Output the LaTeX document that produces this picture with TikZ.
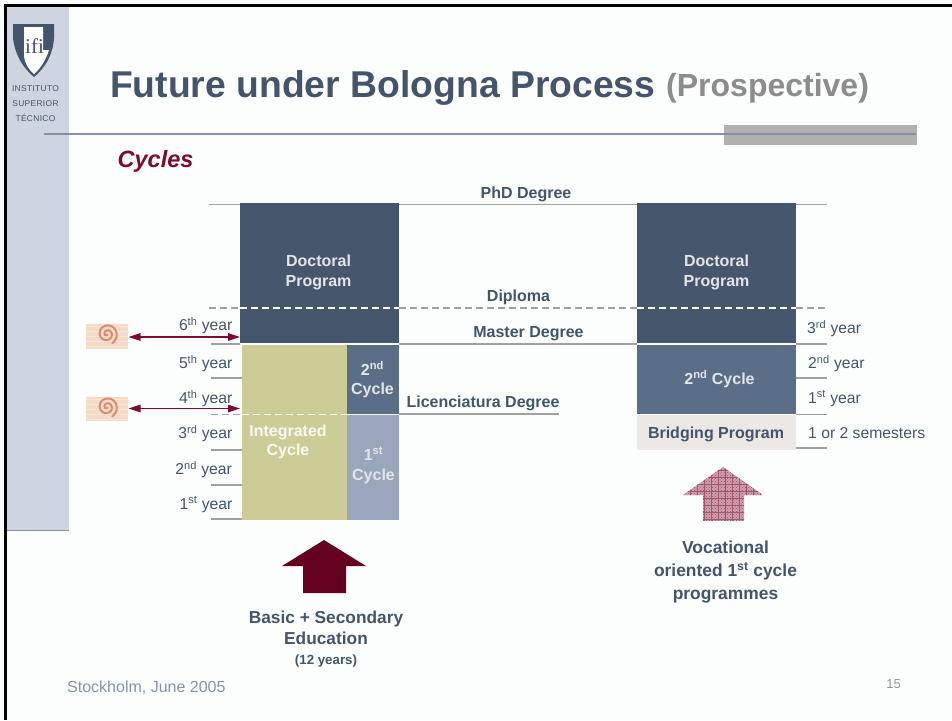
\documentclass[tikz,border=0pt]{standalone}
\usepackage{fontspec}
\setmainfont{Liberation Sans}
\newfontfamily\crestfont{Liberation Serif}
\usetikzlibrary{arrows.meta,patterns}
\definecolor{slate}{HTML}{44546A}
\definecolor{navy}{HTML}{46566C}
\definecolor{midblue}{HTML}{5A6E88}
\definecolor{lightblue}{HTML}{99A6BC}
\definecolor{olive}{HTML}{CCCC96}
\definecolor{wine}{HTML}{7D0B2E}
\definecolor{darkwine}{HTML}{640020}
\definecolor{rulegray}{HTML}{A0A0A0}
\definecolor{sidebar}{HTML}{CED5E0}
\definecolor{bridge}{HTML}{EBE8E6}
\definecolor{titlerule}{HTML}{8490A6}
\definecolor{footgray}{HTML}{8794A8}
\definecolor{spiralbg}{HTML}{F3D9CE}
\definecolor{spiralln}{HTML}{DB8A70}
\definecolor{pagebg}{HTML}{FCFEFE}
\newcommand{\stxt}[1]{\textsuperscript{#1}}
\tikzset{
  x=1pt,y=-1pt,
  hrule/.style={draw=rulegray,line width=1.8pt},
  wdash/.style={draw=white,line width=1.6pt,dash pattern=on 7pt off 4pt},
  gdash/.style={draw=rulegray,line width=1.6pt,dash pattern=on 7pt off 4pt},
  wsep/.style={draw=white,line width=1.6pt},
  block/.style={draw=none,inner sep=0pt,outer sep=0pt,anchor=north west},
  yearlbl/.style={font=\fontsize{15.7}{17}\selectfont,text=slate,inner sep=0pt},
  deg/.style={font=\fontsize{16}{17}\selectfont\bfseries,text=slate,inner sep=0pt},
  inbox/.style={font=\fontsize{16}{19.3}\selectfont\bfseries,align=center,inner sep=0pt},
  link/.style={draw=wine,line width=1.5pt,{Triangle[length=12pt,width=7.5pt]}-{Triangle[length=12pt,width=7.5pt]}},
  bigarrow/.style={fill=darkwine,draw=none},
  spiral/.style={draw=none,fill=spiralbg,minimum width=42pt,inner sep=0pt},
}
\begin{document}
\begin{tikzpicture}
\useasboundingbox (0,0) rectangle (952,720);
\fill[pagebg] (0,0) rectangle (952,720);
% sidebar and frame
\fill[sidebar] (6,5) rectangle (69,530);
\draw[titlerule,line width=1.4pt] (6,530.5) -- (69,530.5);
\draw[black,line width=3pt] (5,720) -- (5,5) -- (952,5);
% crest
\fill[slate] (13,24) -- (54,24) -- (54,38) .. controls (53,55) and (45,68) .. (34,77) .. controls (23,68) and (15,55) .. (13,38) -- cycle;
\fill[white] (24,27) -- (43,27) -- (43,50) -- (49,50) .. controls (46,60) and (40,69) .. (34,74) .. controls (29,70) and (25,64) .. (24,56) -- cycle;
\node[inner sep=0pt,text=slate,font=\fontsize{21}{21}\selectfont\crestfont] (crestmark) at (34.5,46) {ifi};
\node[inner sep=0pt,text=slate,align=center,font=\fontsize{8.4}{15}\selectfont\addfontfeatures{LetterSpace=4}] (ist) at (35.5,103.5) {INSTITUTO\\SUPERIOR\\TÉCNICO};
% title
\node[anchor=west,inner sep=0pt,text=slate,font=\fontsize{37.3}{40}\selectfont\bfseries] (title) at (110,88) {Future under Bologna Process};
\node[anchor=west,inner sep=0pt,text=gray!90,font=\fontsize{32}{40}\selectfont\bfseries] (prosp) at (666,88) {(Prospective)};
\fill[black!31] (724,125) rectangle (917,145);
\coordinate (tl) at (44,134);
\coordinate (tr) at (916,134);
\draw[titlerule,line width=1.4pt] (tl) -- (tr);
\node[anchor=west,inner sep=0pt,text=wine,font=\fontsize{23.5}{25}\selectfont\bfseries\itshape] (cycles) at (117.5,161) {Cycles};
% degree lines
\coordinate (phdl) at (209,204.5); \coordinate (phdr) at (827,204.5);
\draw[hrule] (phdl) -- (phdr);
\node[deg] (phd) at (526,194) {PhD Degree};
% blocks
\node[block,fill=navy,minimum width=159pt,minimum height=141pt] (docl) at (240,203) {};
\node[inbox,text=white!85!slate] (docltxt) at (318.5,272.5) {Doctoral\\Program};
\node[block,fill=navy,minimum width=159pt,minimum height=141pt] (docr) at (637,203) {};
\node[inbox,text=white!85!slate] (docrtxt) at (716.5,272.5) {Doctoral\\Program};
\node[block,fill=olive,minimum width=105.5pt,minimum height=175.5pt] (integ) at (241.5,344.5) {};
\node[inbox,text=white!90!olive] (integtxt) at (288,442) {Integrated\\Cycle};
\node[block,fill=midblue,minimum width=52pt,minimum height=69pt] (c2l) at (347,345) {};
\node[inbox,text=white!85!slate] (c2ltxt) at (372.5,379.5) {2\stxt{nd}\\Cycle};
\node[block,fill=lightblue,minimum width=52pt,minimum height=106pt] (c1l) at (347,414) {};
\node[inbox,text=white!85!slate] (c1ltxt) at (373.5,465.5) {1\stxt{st}\\Cycle};
\node[block,fill=midblue,minimum width=159pt,minimum height=69pt] (c2r) at (637,345) {};
\node[inbox,text=white!85!slate] (c2rtxt) at (719.5,379) {2\stxt{nd} Cycle};
\node[block,fill=bridge,minimum width=159pt,minimum height=35pt] (bridge) at (637,415) {};
\node[inbox,text=slate] (bridgetxt) at (716,434) {Bridging Program};
% horizontal ticks
\foreach \yy in {378,450,485,519}{\draw[hrule] (211,\yy) -- (241.5,\yy);}
\draw[hrule] (211,344) -- (241,344);
\draw[hrule] (399,344) -- (637,344);
\draw[hrule] (796,344) -- (827,344);
\draw[hrule] (399,414) -- (559,414);
\draw[hrule] (796,378) -- (827,378);
\draw[hrule] (796,414.5) -- (827,414.5);
\draw[hrule] (796,448) -- (827,448);
\draw[wsep] (240,344) -- (399,344);
\draw[wsep] (637,344) -- (796,344);
\draw[wsep] (347,414.5) -- (399,414.5);
\draw[wsep] (637,414.5) -- (796,414.5);
% dashed levels
\draw[gdash] (209,308) -- (240,308);
\draw[gdash] (399,308) -- (637,308);
\draw[gdash] (796,308) -- (827,308);
\draw[wdash] (240,308) -- (399,308);
\draw[wdash] (637,308) -- (796,308);
\draw[gdash] (211,414.5) -- (241.5,414.5);
\draw[wdash] (241.5,414.5) -- (347,414.5);
\node[deg] (dipl) at (518.5,297.5) {Diploma};
\node[deg] (mast) at (528.5,333.5) {Master Degree};
\node[deg] (lic) at (483,403.5) {Licenciatura Degree};
% year labels left
\node[yearlbl,anchor=east] (y6) at (232.5,325.5) {6\stxt{th} year};
\node[yearlbl,anchor=east] (y5) at (232.5,363.5) {5\stxt{th} year};
\node[yearlbl,anchor=east] (y4) at (232.5,398.5) {4\stxt{th} year};
\node[yearlbl,anchor=east] (y3) at (232.5,433.5) {3\stxt{rd} year};
\node[yearlbl,anchor=east] (y2) at (232,469.5) {2\stxt{nd} year};
\node[yearlbl,anchor=east] (y1) at (232.5,504.5) {1\stxt{st} year};
% year labels right
\node[yearlbl,anchor=west] (r3) at (807,328.5) {3\stxt{rd} year};
\node[yearlbl,anchor=west] (r2) at (808,363.5) {2\stxt{nd} year};
\node[yearlbl,anchor=west] (r1) at (808,398.5) {1\stxt{st} year};
\node[yearlbl,anchor=west] (rs) at (808,433.5) {1 or 2 semesters};
% spirals
\node[spiral,minimum height=25pt] (sp1) at (107,336.5) {};
\node[spiral,minimum height=24pt] (sp2) at (107,409) {};
\foreach \cname/\cy/\ytop/\ybot in {sp1/334/324/349,sp2/407/397/421}{
  \foreach \k in {0,1,2,3,4}{
    \draw[white!70!yellow,line width=.7pt,opacity=.5] (86,\ytop+2.5+\k*5) -- (128,\ytop+2.5+\k*5);
  }
  \draw[spiralln,line width=2pt,line cap=round] plot[domain=60:780,samples=70,smooth] ({107+0.0135*\x*cos(\x)},{\cy+0.0135*\x*sin(\x)});
}
\coordinate (a1) at (240,337);
\coordinate (a2) at (240,408.5);
\coordinate (s1) at (128.5,337);
\coordinate (s2) at (128.5,408.5);
\draw[link] (s1) -- (a1);
\draw[link] (s2) -- (a2);
% big arrows
\fill[bigarrow] (324,540) -- (366,566) -- (346,566) -- (346,593) -- (303,593) -- (303,566) -- (282,566) -- cycle;
\begin{scope}
\clip (723,467) -- (763,495) -- (744,495) -- (744,521) -- (703,521) -- (703,495) -- (683,495) -- cycle;
\fill[wine!38] (683,467) rectangle (763,521);
\fill[pattern=crosshatch dots,pattern color=wine!75] (683,467) rectangle (763,521);
\foreach \xx in {690,697,...,760}{\draw[wine!70,line width=.5pt] (\xx,467) -- (\xx,521);}
\foreach \yy in {470,477,...,521}{\draw[wine!70,line width=.5pt] (683,\yy) -- (763,\yy);}
\end{scope}
\node[inbox,text=slate,font=\fontsize{17.3}{21}\selectfont\bfseries] (basic) at (326,628) {Basic + Secondary\\Education};
\node[inbox,text=slate,font=\fontsize{13.3}{15}\selectfont\bfseries] (twelve) at (326,661.5) {(12 years)};
\node[inbox,text=slate,font=\fontsize{17.4}{23}\selectfont\bfseries] (voc) at (725.5,572) {Vocational\\oriented 1\stxt{st} cycle\\programmes};
% footer
\node[anchor=west,inner sep=0pt,text=footgray,font=\fontsize{16}{17}\selectfont] (foot) at (67,687.5) {Stockholm, June 2005};
\node[inner sep=0pt,text=footgray,font=\fontsize{13}{14}\selectfont] (pg) at (893.5,684.5) {15};
\end{tikzpicture}
\end{document}
